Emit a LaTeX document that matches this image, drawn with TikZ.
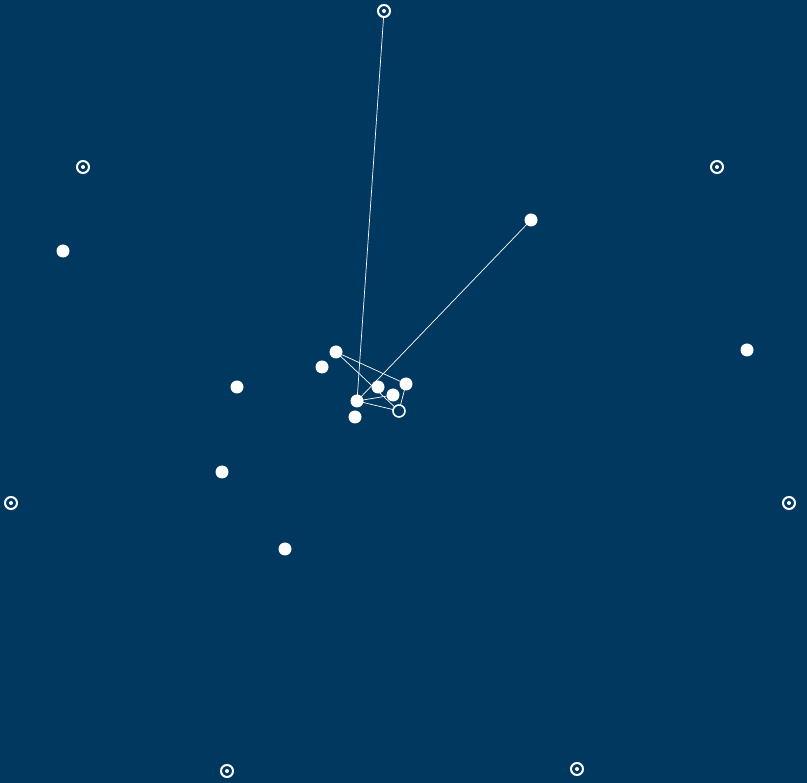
\documentclass[tikz,border=0pt]{standalone}
\definecolor{bg}{RGB}{1,56,96}
\begin{document}
\begin{tikzpicture}[x=1pt,y=-1pt,
  dot/.style={circle,fill=white,inner sep=0pt,minimum size=13pt},
  hollow/.style={circle,draw=white,line width=1.6pt,fill=bg,inner sep=0pt,minimum size=12pt},
  target/.style={circle,draw=white,line width=2pt,fill=bg,inner sep=0pt,minimum size=12pt,
    path picture={\fill[white] (path picture bounding box.center) circle (2pt);}},
  edge/.style={draw=white,line width=0.7pt}]
\fill[bg] (0,0) rectangle (807,783);
\useasboundingbox (0,0) rectangle (807,783);
% edges first (nodes defined as coordinates then drawn)
\coordinate (t1) at (384,11);
\coordinate (t2) at (83,167);
\coordinate (t3) at (717,167);
\coordinate (t4) at (11,503);
\coordinate (t5) at (789,503);
\coordinate (t6) at (227,771);
\coordinate (t7) at (577,769);
\coordinate (n1) at (63,251);
\coordinate (n2) at (237,387);
\coordinate (n3) at (222,472);
\coordinate (n4) at (285,549);
\coordinate (n5) at (747,350);
\coordinate (n6) at (531,220);
\coordinate (A) at (336,352);
\coordinate (B) at (322,367);
\coordinate (C) at (378,387);
\coordinate (D) at (406,384);
\coordinate (E) at (393,395);
\coordinate (F) at (357,401);
\coordinate (G) at (399,411);
\coordinate (H) at (355,417);
\draw[edge] (t1) -- (F);
\draw[edge] (n6) -- (F);
\draw[edge] (A) -- (D);
\draw[edge] (A) -- (G);
\draw[edge] (F) -- (E);
\draw[edge] (F) -- (G);
\draw[edge] (D) -- (G);
\foreach \p in {n1,n2,n3,n4,n5,n6,A,B,C,D,E,F,H} \node[dot] (d\p) at (\p) {};
\node[hollow] (dG) at (G) {};
\foreach \p in {t1,t2,t3,t4,t5,t6,t7} \node[target] (d\p) at (\p) {};
\end{tikzpicture}
\end{document}
